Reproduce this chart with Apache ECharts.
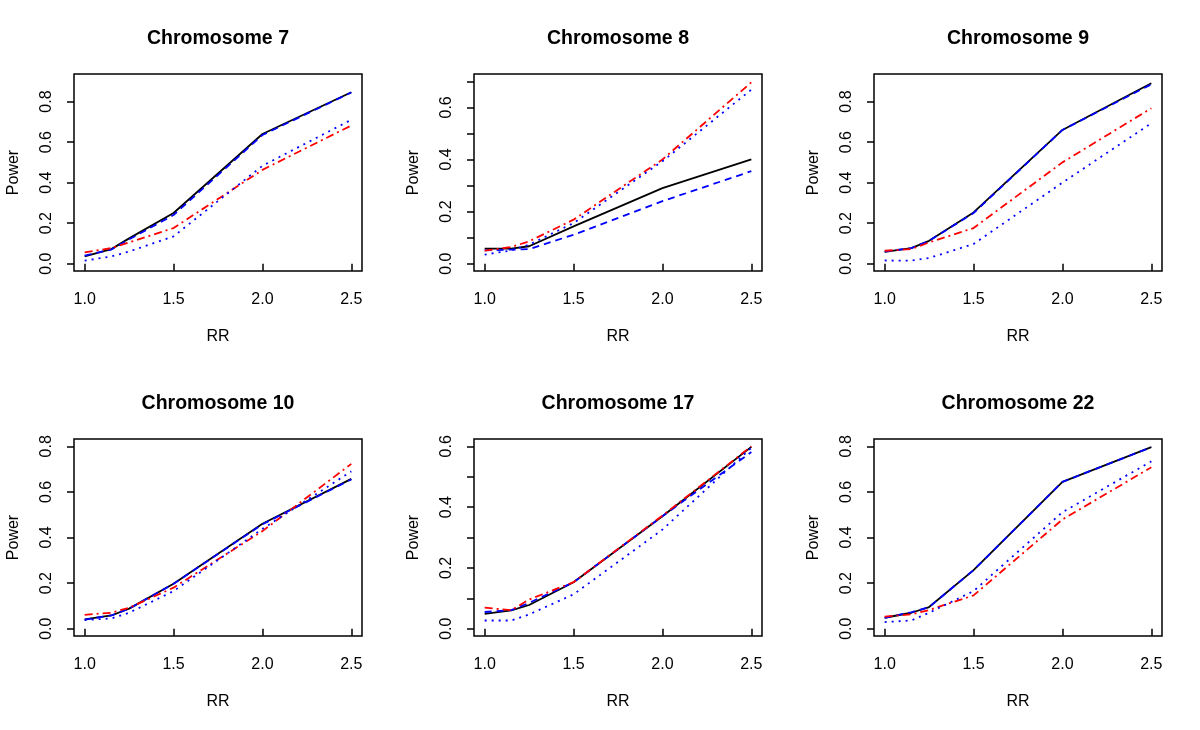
<!DOCTYPE html>
<html>
<head>
<meta charset="utf-8">
<script src="https://cdn.jsdelivr.net/npm/echarts@6/dist/echarts.min.js"></script>
<style>html,body{margin:0;padding:0;background:#fff}#c{width:1200px;height:730px}</style>
</head>
<body>
<div id="c"></div>
<script>
// ---- data ----
const rr = [1.0, 1.15, 1.25, 1.5, 2.0, 2.5];
const xTicks = [1.0, 1.5, 2.0, 2.5];

const chr7_solid   = [0.036, 0.072, 0.125, 0.250, 0.640, 0.846];
const chr7_dashed  = [0.040, 0.070, 0.120, 0.240, 0.635, 0.845];
const chr7_dotdash = [0.056, 0.077, 0.105, 0.176, 0.463, 0.682];
const chr7_dotted  = [0.015, 0.036, 0.060, 0.135, 0.483, 0.710];

const chr8_solid   = [0.058, 0.058, 0.067, 0.143, 0.290, 0.400];
const chr8_dashed  = [0.051, 0.054, 0.056, 0.111, 0.240, 0.355];
const chr8_dotdash = [0.050, 0.064, 0.086, 0.169, 0.400, 0.696];
const chr8_dotted  = [0.035, 0.051, 0.073, 0.156, 0.393, 0.668];

const chr9_solid   = [0.058, 0.077, 0.113, 0.253, 0.660, 0.890];
const chr9_dashed  = [0.060, 0.077, 0.113, 0.250, 0.660, 0.885];
const chr9_dotdash = [0.064, 0.072, 0.105, 0.176, 0.500, 0.767];
const chr9_dotted  = [0.016, 0.015, 0.028, 0.097, 0.400, 0.693];

const chr10_solid   = [0.041, 0.058, 0.088, 0.197, 0.460, 0.657];
const chr10_dashed  = [0.040, 0.058, 0.088, 0.197, 0.458, 0.655];
const chr10_dotdash = [0.061, 0.070, 0.092, 0.180, 0.428, 0.723];
const chr10_dotted  = [0.038, 0.045, 0.070, 0.165, 0.438, 0.690];

const chr17_solid   = [0.049, 0.060, 0.078, 0.153, 0.370, 0.598];
const chr17_dashed  = [0.055, 0.061, 0.085, 0.153, 0.370, 0.581];
const chr17_dotdash = [0.069, 0.061, 0.096, 0.153, 0.372, 0.600];
const chr17_dotted  = [0.027, 0.027, 0.047, 0.113, 0.326, 0.595];

const chr22_solid   = [0.048, 0.070, 0.095, 0.257, 0.644, 0.796];
const chr22_dashed  = [0.048, 0.072, 0.095, 0.257, 0.644, 0.796];
const chr22_dotdash = [0.053, 0.063, 0.082, 0.146, 0.479, 0.708];
const chr22_dotted  = [0.029, 0.036, 0.070, 0.165, 0.511, 0.734];

const titles = ['Chromosome 7', 'Chromosome 8', 'Chromosome 9', 'Chromosome 10', 'Chromosome 17', 'Chromosome 22'];
const yLims = [0.9, 0.7, 0.9, 0.8, 0.6, 0.8];
const yTickSets = [
  [0, 0.2, 0.4, 0.6, 0.8],
  [0, 0.1, 0.2, 0.3, 0.4, 0.5, 0.6, 0.7],
  [0, 0.2, 0.4, 0.6, 0.8],
  [0, 0.2, 0.4, 0.6, 0.8],
  [0, 0.1, 0.2, 0.3, 0.4, 0.5, 0.6],
  [0, 0.2, 0.4, 0.6, 0.8]
];
const yLabelSets = [
  [0, 0.2, 0.4, 0.6, 0.8],
  [0, 0.2, 0.4, 0.6],
  [0, 0.2, 0.4, 0.6, 0.8],
  [0, 0.2, 0.4, 0.6, 0.8],
  [0, 0.2, 0.4, 0.6],
  [0, 0.2, 0.4, 0.6, 0.8]
];
const panels = [
  [chr7_solid, chr7_dashed, chr7_dotdash, chr7_dotted],
  [chr8_solid, chr8_dashed, chr8_dotdash, chr8_dotted],
  [chr9_solid, chr9_dashed, chr9_dotdash, chr9_dotted],
  [chr10_solid, chr10_dashed, chr10_dotdash, chr10_dotted],
  [chr17_solid, chr17_dashed, chr17_dotdash, chr17_dotted],
  [chr22_solid, chr22_dashed, chr22_dotdash, chr22_dotted]
];

// ---- layout / style ----
const FONT = 'Liberation Sans, Arial, Helvetica, sans-serif';
const colLeft = [74, 474, 874];
const rowTop = [74, 439];
const gw = 288, gh = 197;
const styles = [
  {color: '#000000', type: 'solid', width: 1.8},
  {color: '#0000ff', type: [7, 5], width: 1.8},
  {color: '#ff0000', type: [8, 4, 2, 4], width: 1.8},
  {color: '#0000ff', type: [2, 5], width: 1.8}
];

const grid = [], xAxis = [], yAxis = [], series = [], title = [];
panels.forEach((lines, i) => {
  const c = i % 3, r = Math.floor(i / 3);
  const ylim = yLims[i];
  grid.push({left: colLeft[c], top: rowTop[r], width: gw, height: gh,
    show: true, borderColor: '#000', borderWidth: 1.5, backgroundColor: 'transparent', containLabel: false});
  title.push({text: titles[i], left: colLeft[c] + gw / 2, top: rowTop[r] - 45, textAlign: 'center', padding: 0,
    textStyle: {fontFamily: FONT, fontWeight: 'bold', fontSize: 19.5, color: '#000'}});
  xAxis.push({type: 'value', gridIndex: i, min: 0.94, max: 2.56,
    axisLine: {show: false}, splitLine: {show: false},
    axisTick: {show: true, customValues: xTicks, length: 7, inside: false, lineStyle: {color: '#000', width: 1.5}},
    axisLabel: {show: true, customValues: xTicks, margin: 21, formatter: v => v.toFixed(1),
      fontFamily: FONT, fontSize: 16, color: '#000'},
    name: 'RR', nameLocation: 'middle', nameGap: 58,
    nameTextStyle: {fontFamily: FONT, fontSize: 16, color: '#000'}});
  yAxis.push({type: 'value', gridIndex: i, min: -0.04 * ylim, max: ylim * 1.04,
    axisLine: {show: false}, splitLine: {show: false},
    axisTick: {show: true, customValues: yTickSets[i], length: 7, inside: false, lineStyle: {color: '#000', width: 1.5}},
    axisLabel: {show: true, customValues: yLabelSets[i], rotate: 90, margin: 19, formatter: v => v.toFixed(1),
      fontFamily: FONT, fontSize: 16, color: '#000'},
    name: 'Power', nameLocation: 'middle', nameGap: 52, nameRotate: 90,
    nameTextStyle: {fontFamily: FONT, fontSize: 16, color: '#000'}});
  lines.forEach((vals, k) => {
    series.push({type: 'line', xAxisIndex: i, yAxisIndex: i, symbol: 'none', silent: true,
      data: rr.map((x, j) => [x, vals[j]]),
      lineStyle: {color: styles[k].color, type: styles[k].type, width: styles[k].width},
      z: 2 + k});
  });
});

const chart = echarts.init(document.getElementById('c'), null, {renderer: 'canvas'});
chart.setOption({animation: false, backgroundColor: '#fff', title, grid, xAxis, yAxis, series});
</script>
</body>
</html>
